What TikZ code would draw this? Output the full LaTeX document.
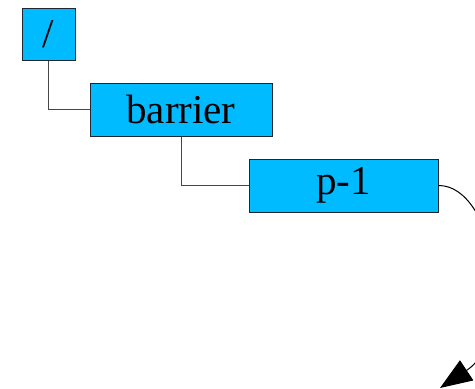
\documentclass[tikz,border=0pt]{standalone}
\usepackage{fontspec}
\setmainfont{Liberation Serif}
\usetikzlibrary{arrows.meta}
\definecolor{boxfill}{RGB}{0,187,255}
\definecolor{boxline}{RGB}{30,40,50}
\definecolor{linkline}{RGB}{70,70,70}
\tikzset{
  treebox/.style={draw=boxline, line width=1pt, fill=boxfill, inner sep=0pt,
    font=\fontsize{41}{41}\selectfont},
  link/.style={draw=linkline, line width=1pt},
}
\begin{document}
\begin{tikzpicture}[x=1pt,y=-1pt]
  \useasboundingbox (0,0) rectangle (475,389);
  \clip (0,0) rectangle (475,389);
  % tree nodes
  \node[treebox, minimum width=53pt, minimum height=52pt] (root) at (48.5,34.5) {/};
  \node[treebox, minimum width=182pt, minimum height=53pt] (barrier) at (181,109.5) {barrier};
  \node[treebox, minimum width=189pt, minimum height=53pt] (p1) at (343.5,185.5) {p-1};
  % elbow connectors
  \draw[link] (root.south) |- (barrier.west);
  \draw[link] (barrier.south) |- (p1.west);
  % curved arrow leaving p-1
  \coordinate (tip) at (440,388);
  \draw[line width=1pt, -{Triangle[length=32pt,width=24pt]}]
    (p1.east) .. controls (495,185) and (520,335) .. (tip);
\end{tikzpicture}
\end{document}
